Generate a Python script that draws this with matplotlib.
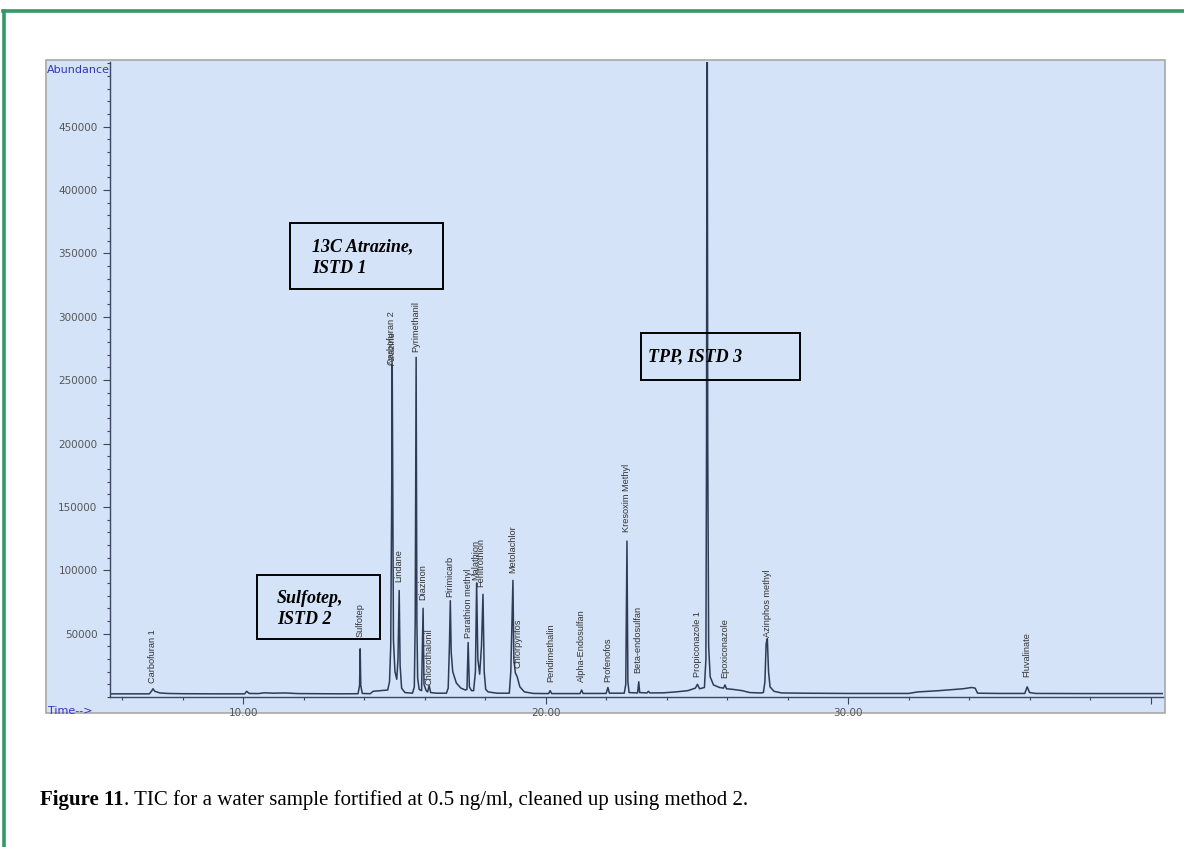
import matplotlib.pyplot as plt
from matplotlib.patches import Rectangle
from matplotlib.lines import Line2D
from matplotlib.ticker import MultipleLocator, FixedLocator

W, H = 1184, 847

# TIC trace (time in min, abundance)
trace_time = [5.60, 6.90, 6.97, 7.02, 7.08, 7.25, 7.50, 8.00, 9.00, 10.05, 10.12, 10.20,
              10.50, 10.70, 11.00, 11.40, 11.80, 12.50, 13.20, 13.80, 13.85, 13.87, 13.89, 13.94,
              14.20, 14.30, 14.55, 14.78, 14.84, 14.88, 14.91, 14.93, 14.95, 14.97, 15.02, 15.08,
              15.12, 15.16, 15.19, 15.24, 15.35, 15.60, 15.66, 15.69, 15.72, 15.745, 15.77, 15.82,
              15.90, 15.95, 15.98, 16.05, 16.10, 16.15, 16.20, 16.40, 16.72, 16.78, 16.82, 16.85,
              16.88, 16.93, 17.05, 17.20, 17.35, 17.40, 17.44, 17.48, 17.55, 17.62, 17.68, 17.72,
              17.76, 17.82, 17.88, 17.93, 17.97, 18.02, 18.10, 18.40, 18.80, 18.85, 18.92, 18.95,
              19.00, 19.06, 19.15, 19.30, 19.60, 20.10, 20.15, 20.20, 21.14, 21.19, 21.24, 22.00,
              22.06, 22.11, 22.60, 22.65, 22.69, 22.72, 22.76, 23.04, 23.08, 23.11, 23.35, 23.40,
              23.45, 23.90, 24.30, 24.70, 24.95, 25.02, 25.09, 25.25, 25.30, 25.32, 25.34, 25.36,
              25.39, 25.44, 25.55, 25.75, 25.88, 25.93, 25.98, 26.20, 26.50, 26.75, 27.10, 27.20,
              27.25, 27.29, 27.33, 27.37, 27.42, 27.55, 27.80, 28.50, 30.00, 32.00, 32.30, 33.00,
              33.80, 34.08, 34.20, 34.28, 35.00, 35.84, 35.92, 36.00, 36.20, 38.00, 40.41]
trace_abund = [2500, 2500, 4500, 6500, 4500, 3200, 2800, 2600, 2500, 2500, 4500, 2800,
               2700, 3300, 3000, 3200, 2700, 2600, 2500, 2600, 9000, 38000, 9000, 2800,
               2600, 4500, 5000, 5500, 12000, 40000, 150000, 262000, 150000, 45000, 20000, 14000,
               30000, 84000, 25000, 7000, 3500, 3000, 8000, 60000, 268000, 60000, 15000, 6000,
               5000, 70000, 10000, 5000, 4000, 9000, 3500, 3000, 3000, 7000, 40000, 76000,
               35000, 20000, 11000, 7000, 5500, 6000, 43000, 8000, 5000, 5000, 20000, 90000,
               30000, 18000, 40000, 81000, 20000, 6000, 4000, 3000, 3000, 20000, 92000, 30000,
               19000, 16000, 8000, 4000, 2800, 2700, 5000, 2700, 2700, 5500, 2800, 2800,
               7500, 3000, 3000, 10000, 123000, 12000, 3500, 3200, 12000, 3500, 3200, 4500,
               3200, 3300, 4000, 5000, 7000, 10000, 6500, 7500, 30000, 200000, 650000, 200000,
               40000, 16000, 9500, 7500, 7000, 9500, 6500, 6000, 5000, 3500, 3200, 3500,
               12000, 42000, 46000, 20000, 8000, 4500, 3200, 3000, 2800, 2800, 4000, 5000,
               6500, 7500, 7000, 3000, 2800, 2800, 8000, 3500, 2800, 2700, 2700]

# peak labels: name, retention time, abundance where the label starts
peak_names = ['Carbofuran 2', 'Atrazine', 'Sulfotep', 'Carbofuran 1', 'Lindane', 'Pyrimethanil',
              'Diazinon', 'Chlorothalonil', 'Pirimicarb', 'Parathion methyl', 'Malathion',
              'Fenitrothion', 'Metolachlor', 'Chlorpyrifos', 'Pendimethalin', 'Alpha-Endosulfan',
              'Profenofos', 'Kresoxim Methyl', 'Beta-endosulfan', 'Propiconazole 1',
              'Epoxiconazole', 'Azinphos methyl', 'Fluvalinate']
peak_times = [14.91, 14.95, 13.87, 6.99, 15.16, 15.72, 15.95, 16.15, 16.84, 17.44, 17.70,
              17.87, 18.93, 19.09, 20.18, 21.17, 22.07, 22.69, 23.06, 25.01, 25.93, 27.32, 35.92]
label_base = [262000, 262000, 47000, 11000, 91000, 272000, 76600, 9500, 79000, 46600, 92400,
              87000, 98000, 23000, 12000, 12000, 12000, 130000, 19000, 15800, 15000, 47400, 15800]

x_major = [10, 20, 30, 40]
x_labels = ['10.00', '20.00', '30.00', '']
y_major = [50000, 100000, 150000, 200000, 250000, 300000, 350000, 400000, 450000]

fig = plt.figure(figsize=(W / 100, H / 100), dpi=100)
fig.patch.set_facecolor('white')

# green frame of the page
fig.add_artist(Line2D([3 / W, 1], [1 - 11 / H, 1 - 11 / H], color='#339966', lw=2.6))
fig.add_artist(Line2D([4 / W, 4 / W], [0, 1 - 11 / H], color='#339966', lw=2.6))

# light blue chromatogram window
fig.patches.append(Rectangle((46 / W, 1 - 713 / H), (1165 - 46) / W, (713 - 60) / H,
                             transform=fig.transFigure, facecolor='#d4e3f7',
                             edgecolor='#a8a8a8', lw=1.2, zorder=-5))

ax = fig.add_axes([110 / W, 1 - 697 / H, (1163 - 110) / W, (697 - 62) / H])
ax.set_zorder(2)
ax.set_facecolor('none')
ax.plot(trace_time, trace_abund, color='#2f3b55', lw=1.1)
ax.set_xlim(5.60, 40.41)
ax.set_ylim(0, 501000)

for s in ['top', 'right']:
    ax.spines[s].set_visible(False)
for s in ['left', 'bottom']:
    ax.spines[s].set_color('#3c4660')
    ax.spines[s].set_linewidth(1.0)

ax.xaxis.set_major_locator(FixedLocator(x_major))
ax.set_xticklabels(x_labels)
ax.xaxis.set_minor_locator(MultipleLocator(2))
ax.yaxis.set_major_locator(FixedLocator(y_major))
ax.set_yticklabels([str(v) for v in y_major])
ax.yaxis.set_minor_locator(MultipleLocator(10000))
ax.tick_params(which='major', length=5, width=0.8, color='#3c4660',
               labelsize=7.5, labelcolor='#555555', pad=4)
ax.tick_params(which='minor', length=2.5, width=0.8, color='#3c4660')
ax.tick_params(axis='x', which='major', pad=3)

# the first two labels sit on top of each other, as in the instrument printout
for name, t, b in zip(peak_names, peak_times, label_base):
    ax.text(t, b, name, rotation=90, ha='center', va='bottom', fontsize=6.6,
            family='Liberation Sans', color='#333333')

fig.text(47 / W, 1 - 70 / H, 'Abundance', color='#3535c0', fontsize=8, va='center')
fig.text(48 / W, 1 - 711 / H, 'Time-->', color='#3535c0', fontsize=8, va='center')

# ISTD boxes
serif = 'Liberation Serif'
boxes = [((290, 223, 443, 289), ['13C Atrazine,', 'ISTD 1'], 312, [247, 268]),
         ((257, 575, 380, 639), ['Sulfotep,', 'ISTD 2'], 277, [598, 619]),
         ((641, 333, 800, 380), ['TPP, ISTD 3'], 648, [357])]
for (x0, y0, x1, y1), lines, tx, tys in boxes:
    fig.patches.append(Rectangle((x0 / W, 1 - y1 / H), (x1 - x0) / W, (y1 - y0) / H,
                                 transform=fig.transFigure, facecolor='none',
                                 edgecolor='black', lw=1.4, zorder=5))
    for line, ty in zip(lines, tys):
        fig.text(tx / W, 1 - ty / H, line, family=serif, style='italic', weight='bold',
                 fontsize=13, va='center', ha='left', zorder=5)

# caption
cap1 = fig.text(40 / W, 1 - 800 / H, 'Figure 11', family=serif, weight='bold',
                fontsize=15, va='center', ha='left')
fig.canvas.draw()
bb = cap1.get_window_extent()
fig.text(bb.x1 / W, 1 - 800 / H, '. TIC for a water sample fortified at 0.5 ng/ml, cleaned up using method 2.',
         family=serif, fontsize=15, va='center', ha='left')

fig.savefig('out.png', dpi=100)
